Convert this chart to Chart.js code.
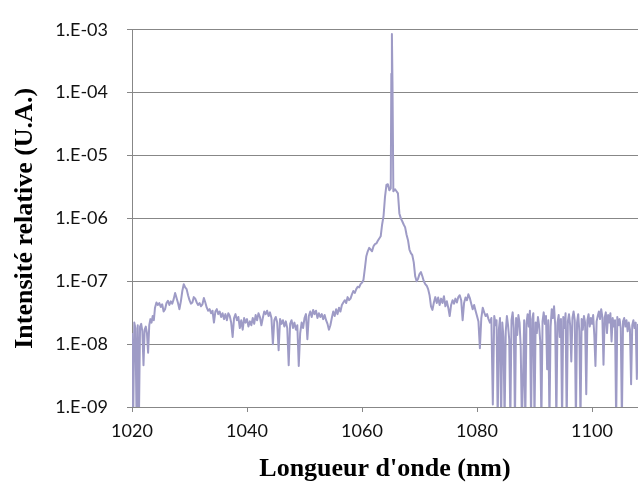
<!DOCTYPE html>
<html>
<head>
<meta charset="utf-8">
<script src="https://cdn.jsdelivr.net/npm/chart.js@4"></script>
<style>
  html, body { margin: 0; padding: 0; background: #fff; }
  #wrap { width: 638px; height: 487px; }
</style>
</head>
<body>
<div id="wrap"><canvas id="spectre" width="638" height="487"></canvas></div>
<script>
// Spectre d'émission : longueur d'onde (nm) et intensité relative (U.A.)
const wavelengths = [
  1020.0, 1020.2, 1020.4, 1020.6, 1020.8, 1021.0, 1021.2, 1021.4, 1021.6, 1021.8,
  1022.0, 1022.2, 1022.4, 1022.6, 1022.8, 1023.0, 1023.2, 1023.4, 1023.6, 1023.8,
  1024.00, 1024.25, 1024.50, 1024.75, 1025.00, 1025.25, 1025.50, 1025.75,
  1026.00, 1026.25, 1026.50, 1026.75, 1027.00, 1027.25, 1027.50, 1027.75,
  1028.00, 1028.25, 1028.50, 1028.75, 1029.00, 1029.25, 1029.50, 1029.75,
  1030.00, 1030.25, 1030.50, 1030.75, 1031.00, 1031.25, 1031.50, 1031.75,
  1032.00, 1032.25, 1032.50, 1032.75, 1033.00, 1033.25, 1033.50, 1033.75,
  1034.00, 1034.25, 1034.50, 1034.75, 1035.00, 1035.25, 1035.50, 1035.75,
  1036.00, 1036.25, 1036.50, 1036.75, 1037.00, 1037.25, 1037.50, 1037.75,
  1038.00, 1038.25, 1038.50, 1038.75, 1039.00, 1039.25, 1039.50, 1039.75,
  1040.00, 1040.25, 1040.50, 1040.75, 1041.00, 1041.25, 1041.50, 1041.75,
  1042.00, 1042.25, 1042.50, 1042.75, 1043.00, 1043.25, 1043.50, 1043.75,
  1044.00, 1044.25, 1044.50, 1044.75, 1045.00, 1045.25, 1045.50, 1045.75,
  1046.00, 1046.25, 1046.50, 1046.75, 1047.00, 1047.25, 1047.50, 1047.75,
  1048.00, 1048.25, 1048.50, 1048.75, 1049.00, 1049.25, 1049.50, 1049.75,
  1050.00, 1050.25, 1050.50, 1050.75, 1051.00, 1051.25, 1051.50, 1051.75,
  1052.00, 1052.25, 1052.50, 1052.75, 1053.00, 1053.25, 1053.50, 1053.75,
  1054.00, 1054.25, 1054.50, 1054.75, 1055.00, 1055.25, 1055.50, 1055.75,
  1056.00, 1056.25, 1056.50, 1056.75, 1057.00, 1057.25, 1057.50, 1057.75,
  1058.00, 1058.25, 1058.50, 1058.75, 1059.00, 1059.25, 1059.50, 1059.75,
  1060.00, 1060.25, 1060.50, 1060.75, 1061.00, 1061.25, 1061.50, 1061.75,
  1062.00, 1062.25, 1062.50, 1062.75, 1063.00, 1063.25, 1063.50, 1063.75,
  1064.00, 1064.25, 1064.50, 1064.75, 1065.00, 1065.10, 1065.20, 1065.30,
  1065.45, 1065.75,
  1066.00, 1066.25, 1066.50, 1066.75, 1067.00, 1067.25, 1067.50, 1067.75,
  1068.00, 1068.25, 1068.50, 1068.75, 1069.00, 1069.25, 1069.50, 1069.75,
  1070.00, 1070.25, 1070.50, 1070.75, 1071.00, 1071.25, 1071.50, 1071.75,
  1072.00, 1072.25, 1072.50, 1072.75, 1073.00, 1073.25, 1073.50, 1073.75,
  1074.00, 1074.25, 1074.50, 1074.75, 1075.00, 1075.25, 1075.50, 1075.75,
  1076.00, 1076.25, 1076.50, 1076.75, 1077.00, 1077.25, 1077.50, 1077.75,
  1078.00, 1078.25, 1078.50, 1078.75, 1079.00, 1079.25, 1079.50, 1079.75,
  1080.00, 1080.25, 1080.50, 1080.75, 1081.00, 1081.25, 1081.50, 1081.75,
  1082.00, 1082.25, 1082.50, 1082.75, 1083.00, 1083.25,
  1083.4, 1083.6, 1083.8, 1084.0, 1084.2, 1084.4, 1084.6, 1084.8, 1085.0, 1085.2,
  1085.4, 1085.6, 1085.8, 1086.0, 1086.2, 1086.4, 1086.6, 1086.8, 1087.0, 1087.2,
  1087.4, 1087.6, 1087.8, 1088.0, 1088.2, 1088.4, 1088.6, 1088.8, 1089.0, 1089.2,
  1089.4, 1089.6, 1089.8, 1090.0, 1090.2, 1090.4, 1090.6, 1090.8, 1091.0, 1091.2,
  1091.4, 1091.6, 1091.8, 1092.0, 1092.2, 1092.4, 1092.6, 1092.8, 1093.0, 1093.2,
  1093.4, 1093.6, 1093.8, 1094.0, 1094.2, 1094.4, 1094.6, 1094.8, 1095.0, 1095.2,
  1095.4, 1095.6, 1095.8, 1096.0, 1096.2, 1096.4, 1096.6, 1096.8, 1097.0, 1097.2,
  1097.4, 1097.6, 1097.8, 1098.0, 1098.2, 1098.4, 1098.6, 1098.8, 1099.0, 1099.2,
  1099.4, 1099.6, 1099.8, 1100.0, 1100.2, 1100.4, 1100.6, 1100.8, 1101.0, 1101.2,
  1101.4, 1101.6, 1101.8, 1102.0, 1102.2, 1102.4, 1102.6, 1102.8, 1103.0, 1103.2,
  1103.4, 1103.6, 1103.8, 1104.0, 1104.2, 1104.4, 1104.6, 1104.8, 1105.0, 1105.2,
  1105.4, 1105.6, 1105.8, 1106.0, 1106.2, 1106.4, 1106.6, 1106.8, 1107.0, 1107.2,
  1107.4, 1107.6, 1107.8, 1108.0
];

const intensity = [
  1.5e-8, 6e-10, 2.2e-8, 1.8e-8, 6e-10, 2.0e-8, 6e-10, 1.9e-8, 2.1e-8, 1.6e-8,
  4.6e-9, 1.7e-8, 1.9e-8, 1.5e-8, 7.3e-9, 2.0e-8, 2.5e-8, 2.2e-8, 2.8e-8, 2.4e-8,
  3.8e-8, 4.6e-8, 4.2e-8, 4.5e-8, 3.9e-8, 4.3e-8, 3.3e-8, 3.6e-8,
  4.5e-8, 4.9e-8, 4.2e-8, 4.8e-8, 4.4e-8, 5.2e-8, 6.5e-8, 5.4e-8,
  4.5e-8, 3.6e-8, 4.8e-8, 7.0e-8, 9.0e-8, 8.0e-8, 7.5e-8, 6.0e-8,
  5.0e-8, 4.4e-8, 4.6e-8, 5.6e-8, 5.3e-8, 4.6e-8, 4.2e-8, 4.5e-8,
  4.0e-8, 4.3e-8, 5.4e-8, 4.6e-8, 3.8e-8, 3.4e-8, 3.6e-8, 3.1e-8,
  3.4e-8, 2.2e-8, 3.3e-8, 3.6e-8, 3.0e-8, 3.3e-8, 2.7e-8, 3.1e-8,
  2.5e-8, 3.0e-8, 2.4e-8, 3.1e-8, 2.8e-8, 2.2e-8, 1.3e-8, 2.6e-8,
  3.0e-8, 2.4e-8, 2.7e-8, 1.8e-8, 2.4e-8, 1.7e-8, 2.6e-8, 2.2e-8,
  2.5e-8, 1.9e-8, 2.3e-8, 2.0e-8, 2.6e-8, 2.1e-8, 2.9e-8, 2.4e-8,
  3.1e-8, 2.7e-8, 2.0e-8, 2.6e-8, 3.3e-8, 3.0e-8, 3.4e-8, 2.8e-8,
  3.2e-8, 2.6e-8, 1.0e-8, 2.4e-8, 2.7e-8, 2.2e-8, 8.0e-9, 2.5e-8,
  2.1e-8, 2.4e-8, 1.9e-8, 2.3e-8, 1.8e-8, 4.6e-9, 2.1e-8, 2.4e-8,
  1.8e-8, 2.2e-8, 1.7e-8, 2.0e-8, 4.5e-9, 1.5e-8, 2.2e-8, 1.8e-8,
  2.6e-8, 3.0e-8, 1.2e-8, 2.8e-8, 3.3e-8, 2.7e-8, 3.5e-8, 3.0e-8,
  3.4e-8, 2.6e-8, 3.1e-8, 2.7e-8, 3.0e-8, 2.5e-8, 2.9e-8, 2.4e-8,
  2.1e-8, 1.7e-8, 2.0e-8, 2.6e-8, 3.3e-8, 2.8e-8, 3.6e-8, 3.0e-8,
  3.8e-8, 3.3e-8, 4.2e-8, 4.6e-8, 5.0e-8, 4.5e-8, 5.6e-8, 5.0e-8,
  5.3e-8, 6.2e-8, 7.0e-8, 6.5e-8, 7.5e-8, 8.2e-8, 8.0e-8, 9.0e-8,
  9.5e-8, 1.05e-7, 1.6e-7, 2.5e-7, 3.0e-7, 3.4e-7, 3.2e-7, 3.0e-7,
  3.6e-7, 3.9e-7, 4.0e-7, 4.4e-7, 4.8e-7, 5.2e-7, 8.0e-7, 1.1e-6,
  2.2e-6, 3.4e-6, 3.5e-6, 2.8e-6, 3.0e-6, 2.0e-4, 8.6e-4, 1.5e-4,
  2.7e-6, 2.9e-6,
  2.7e-6, 2.5e-6, 1.2e-6, 1.0e-6, 9.0e-7, 8.0e-7, 7.2e-7, 5.5e-7,
  4.5e-7, 3.2e-7, 2.8e-7, 2.6e-7, 2.0e-7, 1.2e-7, 1.0e-7, 1.1e-7,
  1.3e-7, 1.4e-7, 1.2e-7, 1.0e-7, 9.0e-8, 8.5e-8, 7.5e-8, 6.0e-8,
  4.0e-8, 3.5e-8, 4.6e-8, 5.6e-8, 4.5e-8, 5.5e-8, 4.2e-8, 5.3e-8,
  4.5e-8, 5.8e-8, 4.0e-8, 4.8e-8, 3.8e-8, 2.8e-8, 4.2e-8, 5.0e-8,
  4.4e-8, 5.3e-8, 4.6e-8, 5.6e-8, 6.0e-8, 5.0e-8, 2.4e-8, 4.5e-8,
  5.5e-8, 5.0e-8, 6.2e-8, 5.4e-8, 4.4e-8, 3.6e-8, 4.2e-8, 3.4e-8,
  2.8e-8, 2.3e-8, 8.6e-9, 2.6e-8, 3.8e-8, 3.2e-8, 2.8e-8, 3.0e-8,
  2.5e-8, 2.2e-8, 2.6e-8, 1.1e-9, 2.8e-8, 2.0e-8,
  2.4e-8, 6e-10, 1.7e-8, 2.6e-8, 6e-10, 2.2e-8, 1.3e-8, 6e-10, 1.6e-8, 2.8e-8,
  2.0e-8, 1.2e-8, 6e-10, 2.4e-8, 3.2e-8, 1.8e-8, 6e-10, 2.6e-8, 1.4e-8, 2.9e-8,
  2.2e-8, 9.0e-9, 6e-10, 2.6e-9, 2.4e-8, 6e-10, 2.1e-8, 3.0e-8, 1.9e-8, 3.4e-8,
  6e-10, 2.5e-8, 3.1e-8, 6e-10, 2.2e-8, 1.5e-8, 2.7e-8, 2.0e-8, 1.1e-8, 6e-10,
  2.3e-8, 3.2e-8, 2.1e-8, 2.8e-8, 4.0e-9, 2.4e-8, 6e-10, 1.9e-8, 3.6e-8, 2.6e-8,
  4.0e-8, 2.0e-8, 6e-10, 2.2e-8, 2.9e-8, 1.3e-8, 2.5e-8, 6e-10, 2.7e-8, 1.8e-8,
  3.1e-8, 6e-10, 2.3e-8, 3.0e-8, 2.0e-8, 5.3e-9, 2.6e-8, 3.3e-8, 2.4e-8, 6e-10,
  2.2e-8, 3.0e-8, 1.6e-8, 6e-10, 2.5e-8, 1.7e-8, 2.8e-8, 2.2e-8, 1.6e-9, 2.4e-8,
  3.0e-8, 1.9e-8, 2.6e-8, 2.1e-8, 2.9e-8, 1.4e-8, 4.5e-9, 2.3e-8, 2.8e-8, 3.3e-8,
  2.5e-8, 3.6e-8, 2.7e-8, 4.7e-9, 2.6e-8, 3.2e-8, 1.5e-8, 2.9e-8, 2.2e-8, 3.1e-8,
  1.1e-8, 2.6e-8, 1.9e-8, 2.4e-8, 6e-10, 2.7e-8, 2.0e-8, 2.5e-8, 1.8e-8, 6e-10,
  2.3e-8, 2.6e-8, 1.9e-8, 2.4e-8, 1.6e-8, 2.2e-8, 1.7e-8, 2.3e-9, 2.0e-8, 2.4e-8,
  1.8e-8, 2.2e-8, 2.8e-9, 2.1e-8
];

// Graduations des axes
const xTicks = [1020, 1040, 1060, 1080, 1100];
const xTickLabels = ['1020', '1040', '1060', '1080', '1100'];
const yTicks = [1e-9, 1e-8, 1e-7, 1e-6, 1e-5, 1e-4, 1e-3];
const yTickLabels = ['1.E-09', '1.E-08', '1.E-07', '1.E-06', '1.E-05', '1.E-04', '1.E-03'];

const points = wavelengths.map((w, i) => ({ x: w, y: intensity[i] }));

const gridGrey = '#878787';
const tickFont = { family: 'Lato', size: 18 };
const titleFont = { family: 'Liberation Serif', size: 26, weight: 'bold' };

new Chart(document.getElementById('spectre'), {
  type: 'line',
  data: {
    datasets: [{
      data: points,
      borderColor: '#9e9bc6',
      borderWidth: 2,
      pointRadius: 0,
      tension: 0,
      fill: false,
      borderJoinStyle: 'round'
    }]
  },
  options: {
    responsive: false,
    animation: false,
    devicePixelRatio: 1,
    layout: { padding: { top: 19, left: 0, right: 0, bottom: 0 } },
    plugins: { legend: { display: false }, tooltip: { enabled: false } },
    scales: {
      x: {
        type: 'linear',
        min: 1020,
        max: 1108,
        afterBuildTicks: s => { s.ticks = xTicks.map(v => ({ value: v })); },
        afterFit: s => { s.height = 80; },
        ticks: {
          font: tickFont,
          color: '#111',
          padding: 8,
          maxRotation: 0,
          autoSkip: false,
          callback: (v, i) => xTickLabels[i]
        },
        grid: { drawOnChartArea: false, drawTicks: true, tickLength: 5, color: gridGrey },
        border: { display: true, color: gridGrey, width: 1 },
        title: {
          display: true,
          text: "Longueur d'onde (nm)",
          font: titleFont,
          color: '#000',
          padding: { top: 0, bottom: 2 }
        }
      },
      y: {
        type: 'logarithmic',
        min: 1e-9,
        max: 1e-3,
        afterBuildTicks: s => { s.ticks = yTicks.map(v => ({ value: v })); },
        afterFit: s => { s.width = 132; },
        ticks: {
          font: tickFont,
          color: '#111',
          padding: 19,
          autoSkip: false,
          callback: (v, i) => yTickLabels[i]
        },
        grid: { drawTicks: true, tickLength: 5, color: gridGrey },
        border: { display: true, color: gridGrey, width: 1 },
        title: {
          display: true,
          text: 'Intensité relative (U.A.)',
          font: titleFont,
          color: '#000',
          padding: { top: 10, bottom: 0 }
        }
      }
    }
  }
});
</script>
</body>
</html>
